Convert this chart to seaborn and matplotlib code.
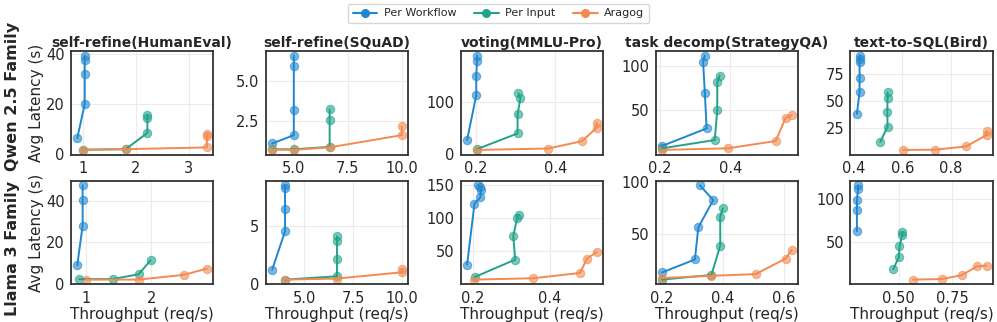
import pandas as pd
import numpy as np
import matplotlib
matplotlib.use('Agg')
import matplotlib.pyplot as plt
import seaborn as sns
from matplotlib.lines import Line2D

# panel titles and rows
tasks = ['self-refine(HumanEval)', 'self-refine(SQuAD)', 'voting(MMLU-Pro)',
         'task decomp(StrategyQA)', 'text-to-SQL(Bird)']
families = ['Qwen 2.5 Family', 'Llama 3 Family']
methods = ['Per Workflow', 'Per Input', 'Aragog']

# ---- Qwen 2.5 (top row) ----
qwen_he_pw_x = [0.90, 1.04, 1.04, 1.04, 1.04]
qwen_he_pw_y = [6.4, 20, 32, 37.9, 39.5]
qwen_he_pi_x = [1.0, 1.81, 2.22, 2.22, 2.22]
qwen_he_pi_y = [1.8, 2.0, 8.5, 14.4, 15.8]
qwen_he_ar_x = [1.0, 1.81, 3.34, 3.34, 3.34]
qwen_he_ar_y = [1.7, 2.0, 2.7, 7.1, 8.2]

qwen_sq_pw_x = [4.0, 5.0, 5.0, 5.0, 5.0]
qwen_sq_pw_y = [1.08, 1.6, 3.19, 5.92, 6.56]
qwen_sq_pi_x = [4.0, 5.0, 6.66, 6.66, 6.66]
qwen_sq_pi_y = [0.72, 0.72, 0.87, 2.53, 3.21]
qwen_sq_ar_x = [4.0, 5.0, 6.66, 10.0, 10.0]
qwen_sq_ar_y = [0.70, 0.68, 0.84, 1.6, 2.15]

qwen_mm_pw_x = [0.178, 0.201, 0.201, 0.203, 0.203]
qwen_mm_pw_y = [26, 113, 151, 180, 190]
qwen_mm_pi_x = [0.203, 0.305, 0.305, 0.312, 0.307]
qwen_mm_pi_y = [8.5, 39, 76, 107, 117]
qwen_mm_ar_x = [0.203, 0.382, 0.467, 0.504, 0.504]
qwen_mm_ar_y = [7, 9.7, 24, 50, 60]

qwen_st_pw_x = [0.207, 0.333, 0.328, 0.323, 0.328]
qwen_st_pw_y = [9.7, 29.5, 69.4, 104.8, 111.5]
qwen_st_pi_x = [0.207, 0.356, 0.363, 0.363, 0.370]
qwen_st_pi_y = [7.1, 16.4, 50, 81.7, 89]
qwen_st_ar_x = [0.207, 0.393, 0.528, 0.556, 0.573]
qwen_st_ar_y = [5.3, 7.1, 15.3, 41.4, 44.4]

qwen_bi_pw_x = [0.412, 0.423, 0.423, 0.423, 0.423, 0.423]
qwen_bi_pw_y = [38.4, 58.5, 71.4, 86.6, 89.6, 92.4]
qwen_bi_pi_x = [0.509, 0.539, 0.538, 0.539, 0.539]
qwen_bi_pi_y = [12.5, 26.5, 40, 53, 58.3]
qwen_bi_ar_x = [0.602, 0.735, 0.864, 0.949, 0.949]
qwen_bi_ar_y = [5, 5.2, 8.2, 18.7, 22.6]

# ---- Llama 3 (bottom row) ----
llama_he_pw_x = [0.873, 0.955, 0.955, 0.955]
llama_he_pw_y = [8.8, 28, 40.1, 47.4]
llama_he_pi_x = [0.9, 1.42, 1.81, 1.99]
llama_he_pi_y = [2.1, 2.2, 4.5, 11.2]
llama_he_ar_x = [1.0, 1.81, 2.5, 2.85]
llama_he_ar_y = [1.9, 1.9, 4.2, 7.2]

llama_sq_pw_x = [3.34, 4.0, 4.0, 4.0, 4.0]
llama_sq_pw_y = [1.22, 4.56, 6.48, 8.38, 8.58]
llama_sq_pi_x = [4.0, 6.67, 6.67, 6.67, 6.67]
llama_sq_pi_y = [0.35, 0.64, 2.12, 3.69, 4.13]
llama_sq_ar_x = [4.0, 6.67, 10.0, 10.0]
llama_sq_ar_y = [0.35, 0.44, 0.99, 1.3]

llama_mm_pw_x = [0.186, 0.205, 0.220, 0.222, 0.220, 0.215]
llama_mm_pw_y = [30, 121, 131, 142, 146, 149]
llama_mm_pi_x = [0.206, 0.310, 0.305, 0.315, 0.319]
llama_mm_pi_y = [11.5, 37.5, 72.5, 100, 105]
llama_mm_ar_x = [0.203, 0.356, 0.477, 0.495, 0.52]
llama_mm_ar_y = [7.5, 9.5, 17.5, 39, 49]

llama_st_pw_x = [0.2, 0.308, 0.319, 0.368, 0.324]
llama_st_pw_y = [12.4, 25, 56, 82.5, 96.8]
llama_st_pi_x = [0.2, 0.362, 0.391, 0.391, 0.4]
llama_st_pi_y = [5.5, 10, 38.5, 66.5, 74.6]
llama_st_ar_x = [0.2, 0.362, 0.507, 0.605, 0.625]
llama_st_ar_y = [7, 9.2, 10.8, 25.8, 34]

llama_bi_pw_x = [0.303, 0.303, 0.303, 0.309, 0.309]
llama_bi_pw_y = [62.5, 87, 99.6, 112.5, 116.4]
llama_bi_pi_x = [0.474, 0.5, 0.503, 0.516, 0.517]
llama_bi_pi_y = [18, 32.4, 44.9, 57.8, 61.7]
llama_bi_ar_x = [0.567, 0.702, 0.795, 0.868, 0.912]
llama_bi_ar_y = [5.9, 6.6, 11, 21.5, 22.3]

# tick positions per panel
xticks = [[[1, 2, 3], [5.0, 7.5, 10.0], [0.2, 0.4], [0.2, 0.4], [0.4, 0.6, 0.8]],
          [[1, 2], [5.0, 7.5, 10.0], [0.2, 0.4], [0.2, 0.4, 0.6], [0.50, 0.75]]]
yticks = [[[0, 20, 40], [2.5, 5.0], [0, 100], [50, 100], [25, 50, 75]],
          [[0, 20, 40], [0, 5], [50, 100, 150], [50, 100], [50, 100]]]

data = {
    0: [(qwen_he_pw_x, qwen_he_pw_y, qwen_he_pi_x, qwen_he_pi_y, qwen_he_ar_x, qwen_he_ar_y),
        (qwen_sq_pw_x, qwen_sq_pw_y, qwen_sq_pi_x, qwen_sq_pi_y, qwen_sq_ar_x, qwen_sq_ar_y),
        (qwen_mm_pw_x, qwen_mm_pw_y, qwen_mm_pi_x, qwen_mm_pi_y, qwen_mm_ar_x, qwen_mm_ar_y),
        (qwen_st_pw_x, qwen_st_pw_y, qwen_st_pi_x, qwen_st_pi_y, qwen_st_ar_x, qwen_st_ar_y),
        (qwen_bi_pw_x, qwen_bi_pw_y, qwen_bi_pi_x, qwen_bi_pi_y, qwen_bi_ar_x, qwen_bi_ar_y)],
    1: [(llama_he_pw_x, llama_he_pw_y, llama_he_pi_x, llama_he_pi_y, llama_he_ar_x, llama_he_ar_y),
        (llama_sq_pw_x, llama_sq_pw_y, llama_sq_pi_x, llama_sq_pi_y, llama_sq_ar_x, llama_sq_ar_y),
        (llama_mm_pw_x, llama_mm_pw_y, llama_mm_pi_x, llama_mm_pi_y, llama_mm_ar_x, llama_mm_ar_y),
        (llama_st_pw_x, llama_st_pw_y, llama_st_pi_x, llama_st_pi_y, llama_st_ar_x, llama_st_ar_y),
        (llama_bi_pw_x, llama_bi_pw_y, llama_bi_pi_x, llama_bi_pi_y, llama_bi_ar_x, llama_bi_ar_y)],
}

colors = {'Per Workflow': '#1f87d0', 'Per Input': '#20a38a', 'Aragog': '#f38a50'}

sns.set_style('whitegrid', {'axes.edgecolor': '.2', 'grid.color': '.92'})
plt.rcParams['font.family'] = ['DejaVu Sans']

fig, axes = plt.subplots(2, 5, figsize=(9.97, 3.22), dpi=100)
plt.subplots_adjust(left=0.071, right=0.996, top=0.842, bottom=0.117,
                    wspace=0.367, hspace=0.25)

for r in range(2):
    for c in range(5):
        ax = axes[r, c]
        vals = data[r][c]
        rows = []
        for k, m in enumerate(methods):
            xs, ys = vals[2 * k], vals[2 * k + 1]
            for i, (xv, yv) in enumerate(zip(xs, ys)):
                rows.append({'method': m, 'order': i, 'x': xv, 'y': yv})
        df = pd.DataFrame(rows)
        # Aragog drawn last so it sits on top like the reference
        for m in methods:
            sub = df[df['method'] == m]
            sns.lineplot(data=sub, x='x', y='y', sort=False, estimator=None,
                         color=colors[m], lw=1.4, ax=ax, legend=False)
            sns.scatterplot(data=sub, x='x', y='y', color=colors[m], s=36,
                            alpha=0.6, edgecolor=colors[m], linewidth=0.8,
                            ax=ax, legend=False)
        ax.set_xticks(xticks[r][c])
        ax.set_yticks(yticks[r][c])
        ax.margins(0.05)
        ax.tick_params(labelsize=10.5, pad=1.5, length=3, width=0.8, color='.2')
        for sp in ax.spines.values():
            sp.set_linewidth(1.3)
        ax.set_xlabel('Throughput (req/s)' if r == 1 else '', fontsize=11, labelpad=1)
        ax.set_ylabel('Avg Latency (s)' if c == 0 else '', fontsize=11, labelpad=1)
        if r == 0:
            ax.set_title(tasks[c], fontsize=10, fontweight='bold', pad=3)

fig.text(0.013, 0.70, families[0], rotation=90, ha='center', va='center',
         fontsize=11.5, fontweight='bold')
fig.text(0.013, 0.23, families[1], rotation=90, ha='center', va='center',
         fontsize=11.5, fontweight='bold')

handles = [Line2D([0], [0], color=colors[m], lw=1.5, marker='o', markersize=5.5,
                  markerfacecolor=colors[m], markeredgecolor=colors[m]) for m in methods]
fig.legend(handles, methods, loc='upper center', bbox_to_anchor=(0.5, 1.005), ncol=3,
           fontsize=8, frameon=True, handlelength=2.2, columnspacing=1.6,
           borderpad=0.4, handletextpad=0.6)

plt.savefig('out.png', dpi=100)
